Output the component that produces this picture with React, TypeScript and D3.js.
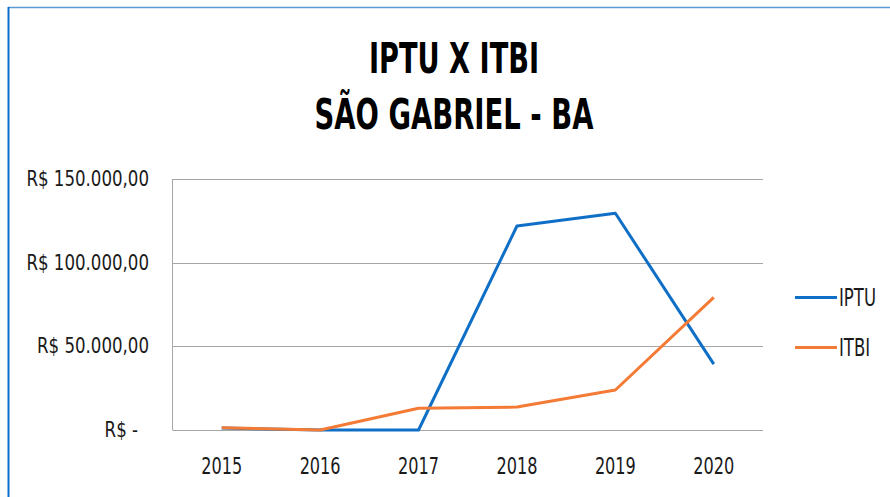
import React, { useRef, useEffect } from 'react';
import * as d3 from 'd3';

const years = ['2015', '2016', '2017', '2018', '2019', '2020'];
const iptu = [1200, 0, 0, 121900, 129500, 39400];
const itbi = [1400, 0, 13000, 13700, 23900, 79300];
const yTicks = [0, 50000, 100000, 150000];

const FONT = '"DejaVu Sans Condensed", "Liberation Sans Narrow", "Open Sans", sans-serif';

const fmt = (v: number) => {
  if (v === 0) return 'R$ -';
  const s = d3.format(',.2f')(v); // 150,000.00
  return 'R$ ' + s.replace(/,/g, '#').replace('.', ',').replace(/#/g, '.');
};

// squeeze text horizontally to mimic a narrow font
const squeeze = (sel: d3.Selection<SVGTextElement, unknown, null, undefined>, ratio: number) => {
  const node = sel.node();
  if (!node) return;
  const w = node.getComputedTextLength();
  sel.attr('textLength', w * ratio).attr('lengthAdjust', 'spacingAndGlyphs');
};

export default function App() {
  const svgRef = useRef<SVGSVGElement | null>(null);

  useEffect(() => {
    if (!svgRef.current) return;
    const width = 890;
    const height = 497;
    const margin = { top: 179, right: 127, bottom: 67, left: 172.5 };

    const svg = d3.select(svgRef.current);
    svg.selectAll('*').remove();

    // outer frame (top + left edges visible)
    svg.append('line')
      .attr('x1', 8).attr('x2', width).attr('y1', 7.5).attr('y2', 7.5)
      .attr('stroke', '#5b9bd5').attr('stroke-width', 1.5);
    svg.append('line')
      .attr('x1', 8.5).attr('x2', 8.5).attr('y1', 7).attr('y2', height)
      .attr('stroke', '#0a6fc9').attr('stroke-width', 2);

    // title
    ['IPTU X ITBI', 'SÃO GABRIEL - BA'].forEach((t, i) => {
      svg.append('text')
        .attr('x', 454)
        .attr('y', i === 0 ? 73 : 129)
        .attr('text-anchor', 'middle')
        .attr('font-family', FONT)
        .attr('font-weight', 'bold')
        .attr('font-size', '42px')
        .attr('fill', '#000')
        .attr('textLength', i === 0 ? 170 : 279)
        .attr('lengthAdjust', 'spacingAndGlyphs')
        .text(t);
    });

    const x = d3.scaleBand().domain(years).range([margin.left, width - margin.right]);
    const y = d3.scaleLinear().domain([0, 150000]).range([height - margin.bottom, margin.top]);

    const g = svg.append('g');

    // grid lines
    yTicks.forEach((t) => {
      g.append('line')
        .attr('x1', margin.left).attr('x2', width - margin.right)
        .attr('y1', Math.round(y(t)) + 0.5).attr('y2', Math.round(y(t)) + 0.5)
        .attr('stroke', '#a6a6a6').attr('stroke-width', 1);

      const lbl = g.append('text')
        .attr('x', t === 0 ? 138 : 149)
        .attr('y', y(t))
        .attr('text-anchor', 'end')
        .attr('dominant-baseline', 'central')
        .attr('font-family', FONT)
        .attr('font-size', '21px')
        .attr('fill', '#1a1a1a')
        .text(fmt(t));
      squeeze(lbl, 0.88);
    });

    // vertical axis line
    g.append('line')
      .attr('x1', margin.left).attr('x2', margin.left)
      .attr('y1', y(150000)).attr('y2', y(0))
      .attr('stroke', '#a6a6a6').attr('stroke-width', 1);

    // x labels
    years.forEach((yr) => {
      g.append('text')
        .attr('x', (x(yr) as number) + x.bandwidth() / 2)
        .attr('y', 474)
        .attr('text-anchor', 'middle')
        .attr('font-family', FONT)
        .attr('font-size', '23px')
        .attr('fill', '#1a1a1a')
        .attr('textLength', 41)
        .attr('lengthAdjust', 'spacingAndGlyphs')
        .text(yr);
    });

    const series = [
      { name: 'IPTU', values: iptu, color: '#0f6fc6' },
      { name: 'ITBI', values: itbi, color: '#f47b35' },
    ];

    const line = d3.line<number>()
      .x((_, i) => (x(years[i]) as number) + x.bandwidth() / 2)
      .y((d) => y(d));

    series.forEach((s) => {
      g.append('path')
        .datum(s.values)
        .attr('fill', 'none')
        .attr('stroke', s.color)
        .attr('stroke-width', 3)
        .attr('stroke-linejoin', 'round')
        .attr('d', line);
    });

    // legend
    let legendRatio = 1;
    series.forEach((s, i) => {
      const ly = 297.5 + i * 50;
      svg.append('line')
        .attr('x1', 795).attr('x2', 837)
        .attr('y1', ly).attr('y2', ly)
        .attr('stroke', s.color).attr('stroke-width', 3);
      const lbl = svg.append('text')
        .attr('x', 839)
        .attr('y', ly + 8.5)
        .attr('font-family', FONT)
        .attr('font-size', '24px')
        .attr('fill', '#1a1a1a')
        .text(s.name);
      if (i === 0) legendRatio = 37 / (lbl.node() as SVGTextElement).getComputedTextLength();
      squeeze(lbl, legendRatio);
    });
  }, []);

  return (
    <svg
      ref={svgRef}
      width={890}
      height={497}
      style={{ position: 'absolute', left: 0, top: 0, background: '#fff' }}
    />
  );
}
